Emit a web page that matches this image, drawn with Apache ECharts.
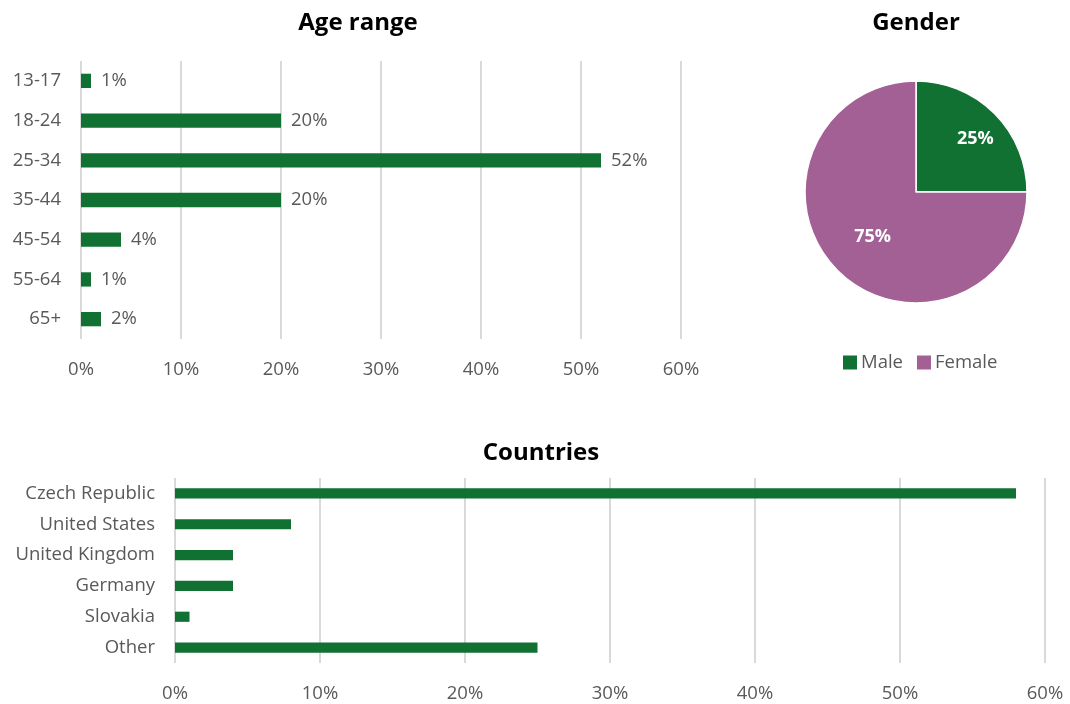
<!DOCTYPE html>
<html>
<head>
<meta charset="utf-8">
<title>Audience overview</title>
<script src="https://cdn.jsdelivr.net/npm/echarts@6/dist/echarts.min.js"></script>
<style>
  html, body { margin: 0; padding: 0; background: #ffffff; }
  #chart { width: 1070px; height: 704px; }
</style>
</head>
<body>
<div id="chart"></div>
<script>
// Age range distribution (% of audience)
const ageCategories = ['13-17', '18-24', '25-34', '35-44', '45-54', '55-64', '65+'];
const ageValues = [1, 20, 52, 20, 4, 1, 2];

// Gender split (% of audience)
const genderNames = ['Male', 'Female'];
const genderValues = [25, 75];

// Top countries (% of audience)
const countryCategories = ['Czech Republic', 'United States', 'United Kingdom', 'Germany', 'Slovakia', 'Other'];
const countryValues = [58, 8, 4, 4, 1, 25];

// Value axis ticks (%)
const percentTicks = [0, 10, 20, 30, 40, 50, 60];

const GREEN = '#117133';
const PURPLE = '#a26095';
const TEXT = '#595959';
const FONT = '"Open Sans", Lato, sans-serif';
const LABEL_SIZE = 18.5;

const chart = echarts.init(document.getElementById('chart'), null, { renderer: 'canvas' });

function valueAxis(gridIndex) {
  return {
    type: 'value',
    gridIndex: gridIndex,
    min: percentTicks[0],
    max: percentTicks[percentTicks.length - 1],
    interval: percentTicks[1] - percentTicks[0],
    axisLine: { show: false },
    axisTick: { show: false },
    splitLine: { show: true, lineStyle: { color: '#d9d9d9', width: 2 } },
    axisLabel: {
      color: TEXT, fontFamily: FONT, fontSize: LABEL_SIZE, margin: 21,
      formatter: v => v + '%'
    }
  };
}

function categoryAxis(gridIndex, data) {
  return {
    type: 'category',
    gridIndex: gridIndex,
    data: data,
    inverse: true,
    axisLine: { show: false },
    axisTick: { show: false },
    axisLabel: { color: TEXT, fontFamily: FONT, fontSize: LABEL_SIZE, margin: 20 }
  };
}

const titleStyle = { fontFamily: FONT, fontSize: 24, fontWeight: 'bold', color: '#000' };

const option = {
  backgroundColor: '#ffffff',
  animation: false,
  textStyle: { fontFamily: FONT },
  title: [
    { text: 'Age range', left: 353, top: 6, textAlign: 'center', textStyle: titleStyle },
    { text: 'Gender', left: 911, top: 6, textAlign: 'center', textStyle: titleStyle },
    { text: 'Countries', left: 536, top: 436, textAlign: 'center', textStyle: titleStyle }
  ],
  legend: {
    data: genderNames,
    left: 836,
    top: 348,
    itemWidth: 16,
    itemHeight: 16,
    itemGap: 12,
    icon: 'rect',
    textStyle: { color: TEXT, fontFamily: FONT, fontSize: LABEL_SIZE, padding: [0, 0, 0, -2] }
  },
  grid: [
    { left: 81, right: 389, top: 61, bottom: 365 },
    { left: 175, right: 25, top: 478, bottom: 41 }
  ],
  xAxis: [valueAxis(0), valueAxis(1)],
  yAxis: [categoryAxis(0, ageCategories), categoryAxis(1, countryCategories)],
  series: [
    {
      name: 'Age range',
      type: 'bar',
      xAxisIndex: 0,
      yAxisIndex: 0,
      data: ageValues,
      barWidth: '36%',
      itemStyle: { color: GREEN },
      label: {
        show: true, position: 'right', distance: 10,
        color: TEXT, fontFamily: FONT, fontSize: LABEL_SIZE,
        formatter: p => p.value + '%'
      }
    },
    {
      name: 'Countries',
      type: 'bar',
      xAxisIndex: 1,
      yAxisIndex: 1,
      data: countryValues,
      barWidth: '33%',
      itemStyle: { color: GREEN }
    },
    {
      name: 'Gender',
      type: 'pie',
      center: [916, 192],
      radius: 111,
      startAngle: 90,
      clockwise: true,
      data: genderNames.map((n, i) => ({
        name: n, value: genderValues[i],
        itemStyle: { color: i === 0 ? GREEN : PURPLE },
        label: { offset: i === 0 ? [18, -12] : [-2, 4] }
      })),
      itemStyle: { borderColor: '#ffffff', borderWidth: 1.5 },
      label: {
        show: true, position: 'inside',
        color: '#ffffff', fontFamily: FONT, fontSize: 18, fontWeight: 'bold',
        formatter: p => p.value + '%'
      },
      labelLine: { show: false }
    }
  ]
};

chart.setOption(option);
</script>
</body>
</html>
